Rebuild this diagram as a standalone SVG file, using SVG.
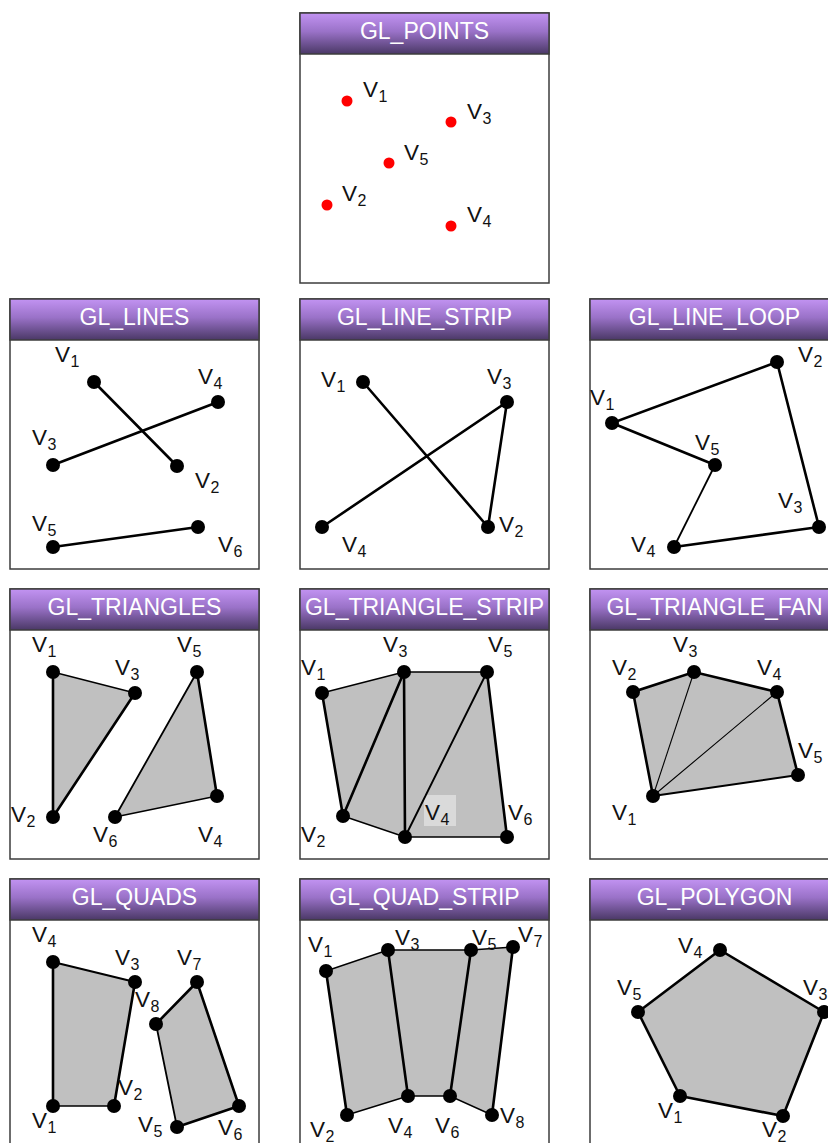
<svg xmlns="http://www.w3.org/2000/svg" width="828" height="1143" viewBox="0 0 828 1143">
<defs>
<linearGradient id="hdr" x1="0" y1="0" x2="0" y2="1">
<stop offset="0" stop-color="#c293f2"/>
<stop offset="0.45" stop-color="#9a72c8"/>
<stop offset="1" stop-color="#4a3866"/>
</linearGradient>
<style>
.frame{fill:#fff;stroke:#3c3c3c;stroke-width:1.5}
.head{fill:url(#hdr);stroke:#3c3c3c;stroke-width:1.5}
.title{font-family:"Liberation Sans",Arial,sans-serif;font-size:23px;fill:#fff;text-anchor:middle}
.v{font-family:"Liberation Sans",Arial,sans-serif;font-size:22.5px;fill:#111}
.s{font-size:16px}
.e{stroke:#000;stroke-width:2.6;fill:none;stroke-linecap:round}
.t{stroke:#000;stroke-width:1.4;fill:none;stroke-linecap:round}
.f{fill:#c0c0c0;stroke:none}
.d{fill:#000}
.r{fill:#f00}
</style>
</defs>
<rect width="828" height="1143" fill="#fff"/>

<!-- GL_POINTS -->
<g id="gl-points">
<rect class="frame" x="300" y="13" width="249" height="270"/>
<rect class="head" x="300" y="13" width="249" height="41"/>
<text class="title" x="424.5" y="39">GL_POINTS</text>
<circle class="r" cx="347" cy="101" r="5.5"/>
<circle class="r" cx="451" cy="122" r="5.5"/>
<circle class="r" cx="389" cy="163" r="5.5"/>
<circle class="r" cx="327" cy="205" r="5.5"/>
<circle class="r" cx="451" cy="226" r="5.5"/>
<text class="v" x="363" y="97">V<tspan class="s" dx="0.5" dy="5">1</tspan></text>
<text class="v" x="467" y="119">V<tspan class="s" dx="0.5" dy="5">3</tspan></text>
<text class="v" x="404" y="160">V<tspan class="s" dx="0.5" dy="5">5</tspan></text>
<text class="v" x="342" y="201">V<tspan class="s" dx="0.5" dy="5">2</tspan></text>
<text class="v" x="467" y="222">V<tspan class="s" dx="0.5" dy="5">4</tspan></text>
</g>

<!-- GL_LINES -->
<g id="gl-lines">
<rect class="frame" x="10" y="299" width="249" height="270"/>
<rect class="head" x="10" y="299" width="249" height="41"/>
<text class="title" x="134.5" y="325">GL_LINES</text>
<g id="gl-lines-edges">
<line class="e" x1="94" y1="382" x2="177" y2="466"/>
<line class="e" x1="53" y1="465" x2="218" y2="402"/>
<line class="e" x1="53" y1="547" x2="198" y2="527"/>
</g>
<circle class="d" cx="94" cy="382" r="7"/>
<circle class="d" cx="177" cy="466" r="7"/>
<circle class="d" cx="53" cy="465" r="7"/>
<circle class="d" cx="218" cy="402" r="7"/>
<circle class="d" cx="53" cy="547" r="7"/>
<circle class="d" cx="198" cy="527" r="7"/>
<text class="v" x="55" y="362">V<tspan class="s" dx="0.5" dy="5">1</tspan></text>
<text class="v" x="198" y="384">V<tspan class="s" dx="0.5" dy="5">4</tspan></text>
<text class="v" x="32" y="445">V<tspan class="s" dx="0.5" dy="5">3</tspan></text>
<text class="v" x="195" y="488">V<tspan class="s" dx="0.5" dy="5">2</tspan></text>
<text class="v" x="32" y="531">V<tspan class="s" dx="0.5" dy="5">5</tspan></text>
<text class="v" x="218" y="552">V<tspan class="s" dx="0.5" dy="5">6</tspan></text>
</g>

<!-- GL_LINE_STRIP -->
<g id="gl-line-strip">
<rect class="frame" x="300" y="299" width="249" height="270"/>
<rect class="head" x="300" y="299" width="249" height="41"/>
<text class="title" x="424.5" y="325">GL_LINE_STRIP</text>
<g id="gl-line-strip-edges">
<polyline class="e" points="363,382 488,527 507,402 322,527"/>
</g>
<circle class="d" cx="363" cy="382" r="7"/>
<circle class="d" cx="488" cy="527" r="7"/>
<circle class="d" cx="507" cy="402" r="7"/>
<circle class="d" cx="322" cy="527" r="7"/>
<text class="v" x="321" y="387">V<tspan class="s" dx="0.5" dy="5">1</tspan></text>
<text class="v" x="487" y="384">V<tspan class="s" dx="0.5" dy="5">3</tspan></text>
<text class="v" x="499" y="532">V<tspan class="s" dx="0.5" dy="5">2</tspan></text>
<text class="v" x="342" y="552">V<tspan class="s" dx="0.5" dy="5">4</tspan></text>
</g>

<!-- GL_LINE_LOOP -->
<g id="gl-line-loop">
<rect class="frame" x="590" y="299" width="249" height="270"/>
<rect class="head" x="590" y="299" width="249" height="41"/>
<text class="title" x="714.5" y="325">GL_LINE_LOOP</text>
<g id="gl-line-loop-edges">
<polyline class="e" points="715,465 612,423 777,362 819,527 674,547"/>
<line class="t" x1="674" y1="547" x2="715" y2="465" style="stroke-width:1.8"/>
</g>
<circle class="d" cx="612" cy="423" r="7"/>
<circle class="d" cx="777" cy="362" r="7"/>
<circle class="d" cx="819" cy="527" r="7"/>
<circle class="d" cx="674" cy="547" r="7"/>
<circle class="d" cx="715" cy="465" r="7"/>
<text class="v" x="798" y="362">V<tspan class="s" dx="0.5" dy="5">2</tspan></text>
<text class="v" x="590" y="405">V<tspan class="s" dx="0.5" dy="5">1</tspan></text>
<text class="v" x="695" y="450">V<tspan class="s" dx="0.5" dy="5">5</tspan></text>
<text class="v" x="778" y="508">V<tspan class="s" dx="0.5" dy="5">3</tspan></text>
<text class="v" x="631" y="552">V<tspan class="s" dx="0.5" dy="5">4</tspan></text>
</g>

<!-- GL_TRIANGLES -->
<g id="gl-triangles">
<rect class="frame" x="10" y="589" width="249" height="270"/>
<rect class="head" x="10" y="589" width="249" height="41"/>
<text class="title" x="134.5" y="615">GL_TRIANGLES</text>
<polygon class="f" points="53,672 53,817 135,693"/>
<polygon class="f" points="197,672 217,796 115,817"/>
<g id="gl-triangles-edges">
<line class="e" x1="53" y1="672" x2="53" y2="817"/>
<line class="e" x1="53" y1="817" x2="135" y2="693"/>
<line class="t" x1="53" y1="672" x2="135" y2="693"/>
<line class="e" x1="197" y1="672" x2="217" y2="796"/>
<line class="t" x1="217" y1="796" x2="115" y2="817"/>
<line class="t" x1="115" y1="817" x2="197" y2="672" style="stroke-width:1.8"/>
</g>
<circle class="d" cx="53" cy="672" r="7"/>
<circle class="d" cx="53" cy="817" r="7"/>
<circle class="d" cx="135" cy="693" r="7"/>
<circle class="d" cx="217" cy="796" r="7"/>
<circle class="d" cx="197" cy="672" r="7"/>
<circle class="d" cx="115" cy="817" r="7"/>
<text class="v" x="32" y="652">V<tspan class="s" dx="0.5" dy="5">1</tspan></text>
<text class="v" x="115" y="675">V<tspan class="s" dx="0.5" dy="5">3</tspan></text>
<text class="v" x="11" y="822">V<tspan class="s" dx="0.5" dy="5">2</tspan></text>
<text class="v" x="177" y="652">V<tspan class="s" dx="0.5" dy="5">5</tspan></text>
<text class="v" x="198" y="842">V<tspan class="s" dx="0.5" dy="5">4</tspan></text>
<text class="v" x="93" y="842">V<tspan class="s" dx="0.5" dy="5">6</tspan></text>
</g>

<!-- GL_TRIANGLE_STRIP -->
<g id="gl-triangle-strip">
<rect class="frame" x="300" y="589" width="249" height="270"/>
<rect class="head" x="300" y="589" width="249" height="41"/>
<text class="title" x="424.5" y="615">GL_TRIANGLE_STRIP</text>
<polygon class="f" points="322,693 404,672 487,672 507,837 405,837 343,816"/>
<rect x="424" y="795" width="32" height="31" fill="#dadada"/>
<g id="gl-triangle-strip-edges">
<line class="t" x1="322" y1="693" x2="404" y2="672"/>
<line class="e" x1="322" y1="693" x2="343" y2="816"/>
<line class="e" x1="343" y1="816" x2="404" y2="672"/>
<line class="t" x1="343" y1="816" x2="405" y2="837"/>
<line class="e" x1="404" y1="672" x2="405" y2="837"/>
<line class="t" x1="404" y1="672" x2="487" y2="672"/>
<line class="t" x1="405" y1="837" x2="487" y2="672" style="stroke-width:1.9"/>
<line class="e" x1="487" y1="672" x2="507" y2="837"/>
<line class="t" x1="405" y1="837" x2="507" y2="837"/>
</g>
<circle class="d" cx="322" cy="693" r="7"/>
<circle class="d" cx="343" cy="816" r="7"/>
<circle class="d" cx="404" cy="672" r="7"/>
<circle class="d" cx="405" cy="837" r="7"/>
<circle class="d" cx="487" cy="672" r="7"/>
<circle class="d" cx="507" cy="837" r="7"/>
<text class="v" x="301" y="675">V<tspan class="s" dx="0.5" dy="5">1</tspan></text>
<text class="v" x="383" y="652">V<tspan class="s" dx="0.5" dy="5">3</tspan></text>
<text class="v" x="488" y="652">V<tspan class="s" dx="0.5" dy="5">5</tspan></text>
<text class="v" x="301" y="842">V<tspan class="s" dx="0.5" dy="5">2</tspan></text>
<text class="v" x="425" y="820">V<tspan class="s" dx="0.5" dy="5">4</tspan></text>
<text class="v" x="508" y="820">V<tspan class="s" dx="0.5" dy="5">6</tspan></text>
</g>

<!-- GL_TRIANGLE_FAN -->
<g id="gl-triangle-fan">
<rect class="frame" x="590" y="589" width="249" height="270"/>
<rect class="head" x="590" y="589" width="249" height="41"/>
<text class="title" x="714.5" y="615">GL_TRIANGLE_FAN</text>
<polygon class="f" points="653,796 633,692 694,672 777,692 798,775"/>
<g id="gl-triangle-fan-edges">
<polyline class="e" points="653,796 633,692 694,672 777,692 798,775"/>
<line class="t" x1="798" y1="775" x2="653" y2="796" style="stroke-width:1.9"/>
<line class="t" x1="653" y1="796" x2="694" y2="672" style="stroke-width:1.1"/>
<line class="t" x1="653" y1="796" x2="777" y2="692" style="stroke-width:1.1"/>
</g>
<circle class="d" cx="653" cy="796" r="7"/>
<circle class="d" cx="633" cy="692" r="7"/>
<circle class="d" cx="694" cy="672" r="7"/>
<circle class="d" cx="777" cy="692" r="7"/>
<circle class="d" cx="798" cy="775" r="7"/>
<text class="v" x="612" y="675">V<tspan class="s" dx="0.5" dy="5">2</tspan></text>
<text class="v" x="673" y="652">V<tspan class="s" dx="0.5" dy="5">3</tspan></text>
<text class="v" x="757" y="675">V<tspan class="s" dx="0.5" dy="5">4</tspan></text>
<text class="v" x="798" y="758">V<tspan class="s" dx="0.5" dy="5">5</tspan></text>
<text class="v" x="612" y="820">V<tspan class="s" dx="0.5" dy="5">1</tspan></text>
</g>

<!-- GL_QUADS -->
<g id="gl-quads">
<rect class="frame" x="10" y="879" width="249" height="270"/>
<rect class="head" x="10" y="879" width="249" height="41"/>
<text class="title" x="134.5" y="905">GL_QUADS</text>
<polygon class="f" points="53,1106 114,1106 135,982 53,962"/>
<polygon class="f" points="177,1127 239,1106 197,982 156,1024"/>
<g id="gl-quads-edges">
<line class="e" x1="53" y1="962" x2="53" y2="1106"/>
<line class="t" x1="53" y1="1106" x2="114" y2="1106"/>
<line class="e" x1="114" y1="1106" x2="135" y2="982"/>
<line class="e" x1="135" y1="982" x2="53" y2="962" style="stroke-width:2.2"/>
<line class="t" x1="156" y1="1024" x2="177" y2="1127" style="stroke-width:1.8"/>
<line class="e" x1="177" y1="1127" x2="239" y2="1106"/>
<line class="e" x1="239" y1="1106" x2="197" y2="982"/>
<line class="e" x1="197" y1="982" x2="156" y2="1024"/>
</g>
<circle class="d" cx="53" cy="1106" r="7"/>
<circle class="d" cx="114" cy="1106" r="7"/>
<circle class="d" cx="135" cy="982" r="7"/>
<circle class="d" cx="53" cy="962" r="7"/>
<circle class="d" cx="177" cy="1127" r="7"/>
<circle class="d" cx="239" cy="1106" r="7"/>
<circle class="d" cx="197" cy="982" r="7"/>
<circle class="d" cx="156" cy="1024" r="7"/>
<text class="v" x="32" y="942">V<tspan class="s" dx="0.5" dy="5">4</tspan></text>
<text class="v" x="115" y="965">V<tspan class="s" dx="0.5" dy="5">3</tspan></text>
<text class="v" x="118" y="1095">V<tspan class="s" dx="0.5" dy="5">2</tspan></text>
<text class="v" x="32" y="1128">V<tspan class="s" dx="0.5" dy="5">1</tspan></text>
<text class="v" x="177" y="965">V<tspan class="s" dx="0.5" dy="5">7</tspan></text>
<text class="v" x="135" y="1007">V<tspan class="s" dx="0.5" dy="5">8</tspan></text>
<text class="v" x="138" y="1132">V<tspan class="s" dx="0.5" dy="5">5</tspan></text>
<text class="v" x="218" y="1135">V<tspan class="s" dx="0.5" dy="5">6</tspan></text>
</g>

<!-- GL_QUAD_STRIP -->
<g id="gl-quad-strip">
<rect class="frame" x="300" y="879" width="249" height="270"/>
<rect class="head" x="300" y="879" width="249" height="41"/>
<text class="title" x="424.5" y="905">GL_QUAD_STRIP</text>
<polygon class="f" points="326,971 388,950 471,950 513,947 492,1115 450,1096 408,1096 347,1115"/>
<g id="gl-quad-strip-edges">
<polyline class="t" points="326,971 388,950 471,950 513,947"/>
<polyline class="t" points="347,1115 408,1096 450,1096 492,1115"/>
<line class="e" x1="326" y1="971" x2="347" y2="1115"/>
<line class="e" x1="388" y1="950" x2="408" y2="1096"/>
<line class="e" x1="471" y1="950" x2="450" y2="1096"/>
<line class="e" x1="513" y1="947" x2="492" y2="1115"/>
</g>
<circle class="d" cx="326" cy="971" r="7"/>
<circle class="d" cx="347" cy="1115" r="7"/>
<circle class="d" cx="388" cy="950" r="7"/>
<circle class="d" cx="408" cy="1096" r="7"/>
<circle class="d" cx="471" cy="950" r="7"/>
<circle class="d" cx="450" cy="1096" r="7"/>
<circle class="d" cx="513" cy="947" r="7"/>
<circle class="d" cx="492" cy="1115" r="7"/>
<text class="v" x="308" y="952">V<tspan class="s" dx="0.5" dy="5">1</tspan></text>
<text class="v" x="395" y="945">V<tspan class="s" dx="0.5" dy="5">3</tspan></text>
<text class="v" x="472" y="945">V<tspan class="s" dx="0.5" dy="5">5</tspan></text>
<text class="v" x="518" y="942">V<tspan class="s" dx="0.5" dy="5">7</tspan></text>
<text class="v" x="310" y="1137">V<tspan class="s" dx="0.5" dy="5">2</tspan></text>
<text class="v" x="388" y="1133">V<tspan class="s" dx="0.5" dy="5">4</tspan></text>
<text class="v" x="435" y="1133">V<tspan class="s" dx="0.5" dy="5">6</tspan></text>
<text class="v" x="500" y="1123">V<tspan class="s" dx="0.5" dy="5">8</tspan></text>
</g>

<!-- GL_POLYGON -->
<g id="gl-polygon">
<rect class="frame" x="590" y="879" width="249" height="270"/>
<rect class="head" x="590" y="879" width="249" height="41"/>
<text class="title" x="714.5" y="905">GL_POLYGON</text>
<polygon class="f" points="680,1096 783,1116 824,1012 720,950 638,1012"/>
<g id="gl-polygon-edges">
<polygon class="e" points="680,1096 783,1116 824,1012 720,950 638,1012" style="stroke-linejoin:round"/>
</g>
<circle class="d" cx="680" cy="1096" r="7"/>
<circle class="d" cx="783" cy="1116" r="7"/>
<circle class="d" cx="824" cy="1012" r="7"/>
<circle class="d" cx="720" cy="950" r="7"/>
<circle class="d" cx="638" cy="1012" r="7"/>
<text class="v" x="678" y="953">V<tspan class="s" dx="0.5" dy="5">4</tspan></text>
<text class="v" x="803" y="995">V<tspan class="s" dx="0.5" dy="5">3</tspan></text>
<text class="v" x="617" y="995">V<tspan class="s" dx="0.5" dy="5">5</tspan></text>
<text class="v" x="658" y="1118">V<tspan class="s" dx="0.5" dy="5">1</tspan></text>
<text class="v" x="762" y="1137">V<tspan class="s" dx="0.5" dy="5">2</tspan></text>
</g>
</svg>
